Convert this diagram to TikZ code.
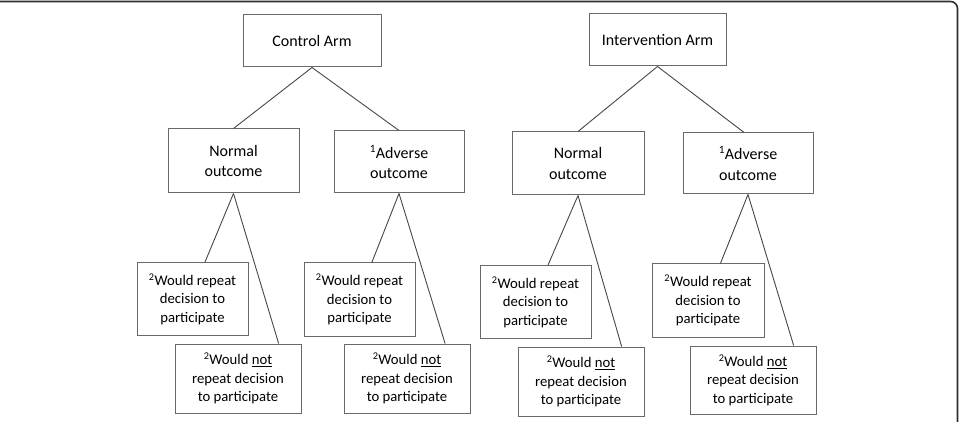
\documentclass[tikz,border=0pt]{standalone}
\usepackage{fontspec}
\setmainfont{Carlito}
\usetikzlibrary{calc}
\definecolor{boxgray}{RGB}{105,105,105}
\definecolor{linegray}{RGB}{70,70,70}
\definecolor{framecol}{RGB}{45,45,45}
\tikzset{
  bigbox/.style={draw=boxgray, line width=1pt, rectangle, align=center, inner sep=0pt,
    font=\fontsize{16}{20.5}\selectfont},
  smallbox/.style={draw=boxgray, line width=1pt, rectangle, align=center, inner sep=0pt,
    font=\fontsize{14.7}{18.3}\selectfont},
  conn/.style={draw=linegray, line width=0.9pt},
}
\begin{document}
\begin{tikzpicture}[x=1pt,y=-1pt]
\useasboundingbox (0,0) rectangle (959,422);
\draw[framecol, line width=1.6pt, rounded corners=7pt] (0,1.5) -- (957.5,1.5) -- (957.5,422);

% top level
\node[bigbox, minimum width=138pt, minimum height=52pt] (ca) at (312,41) {Control Arm};
\node[bigbox, minimum width=137pt, minimum height=52pt] (ia) at (657.5,40) {Intervention Arm};

% middle level
\node[bigbox, minimum width=131pt, minimum height=64pt] (cn) at (233.5,161) {Normal\\outcome};
\node[bigbox, minimum width=130pt, minimum height=62pt] (cad) at (399,162) {\textsuperscript{1}Adverse\\outcome};
\node[bigbox, minimum width=132pt, minimum height=63pt] (in) at (578,163.5) {Normal\\outcome};
\node[bigbox, minimum width=130pt, minimum height=61pt] (iad) at (748,163.5) {\textsuperscript{1}Adverse\\outcome};

% bottom level
\node[smallbox, minimum width=111pt, minimum height=72pt] (cnr) at (192.5,299) {\textsuperscript{2}Would repeat\\decision to\\participate};
\node[smallbox, minimum width=126pt, minimum height=69pt] (cnn) at (238,378.5) {\textsuperscript{2}Would \underline{not}\\repeat decision\\to participate};
\node[smallbox, minimum width=111pt, minimum height=73pt] (car) at (359.5,299.5) {\textsuperscript{2}Would repeat\\decision to\\participate};
\node[smallbox, minimum width=126pt, minimum height=69pt] (can) at (407,378.5) {\textsuperscript{2}Would \underline{not}\\repeat decision\\to participate};
\node[smallbox, minimum width=111pt, minimum height=72pt] (inr) at (535.5,302) {\textsuperscript{2}Would repeat\\decision to\\participate};
\node[smallbox, minimum width=126pt, minimum height=69pt] (inn) at (581,381.5) {\textsuperscript{2}Would \underline{not}\\repeat decision\\to participate};
\node[smallbox, minimum width=112pt, minimum height=73pt] (iar) at (708,300.5) {\textsuperscript{2}Would repeat\\decision to\\participate};
\node[smallbox, minimum width=126pt, minimum height=68pt] (ian) at (753,380) {\textsuperscript{2}Would \underline{not}\\repeat decision\\to participate};

% connectors
\draw[conn] (ca.south) -- (cn.north);
\draw[conn] (ca.south) -- (cad.north);
\draw[conn] (ia.south) -- (in.north);
\draw[conn] (ia.south) -- ($(iad.north west)!0.47!(iad.north east)$);

\draw[conn] (cn.south) -- ($(cnr.north west)!0.61!(cnr.north east)$);
\draw[conn] (cn.south) -- ($(cnn.north west)!0.82!(cnn.north east)$);
\draw[conn] (cad.south) -- ($(car.north west)!0.61!(car.north east)$);
\draw[conn] (cad.south) -- ($(can.north west)!0.80!(can.north east)$);
\draw[conn] (in.south) -- ($(inr.north west)!0.61!(inr.north east)$);
\draw[conn] (in.south) -- ($(inn.north west)!0.82!(inn.north east)$);
\draw[conn] (iad.south) -- ($(iar.north west)!0.61!(iar.north east)$);
\draw[conn] (iad.south) -- ($(ian.north west)!0.82!(ian.north east)$);
\end{tikzpicture}
\end{document}
